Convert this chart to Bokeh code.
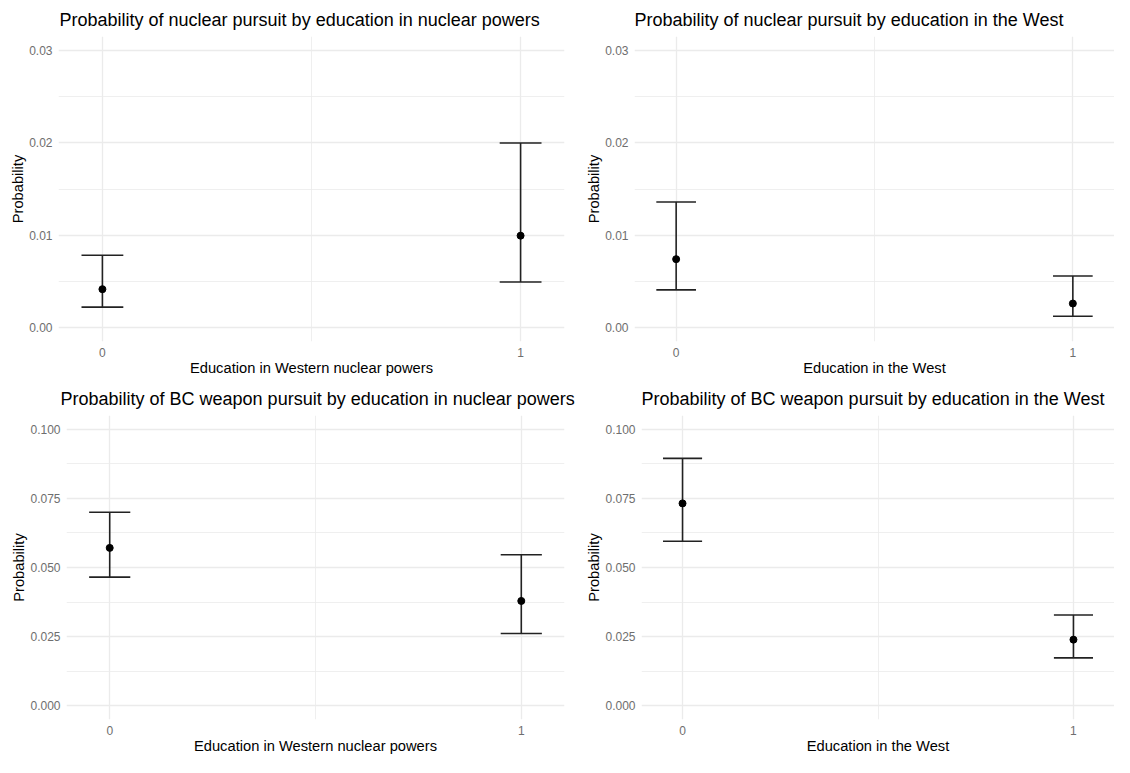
from bokeh.plotting import figure
from bokeh.models import ColumnDataSource, Range1d, FixedTicker, PrintfTickFormatter
from bokeh.layouts import column, row
from bokeh.embed import file_html
from bokeh.resources import INLINE

# ---------------- data ----------------
education = [0, 1]

titles = [
    "Probability of nuclear pursuit by education in nuclear powers",
    "Probability of nuclear pursuit by education in the West",
    "Probability of BC weapon pursuit by education in nuclear powers",
    "Probability of BC weapon pursuit by education in the West",
]
x_titles = [
    "Education in Western nuclear powers",
    "Education in the West",
    "Education in Western nuclear powers",
    "Education in the West",
]
y_title = "Probability"

nuc_powers_est = [0.00416, 0.00995]
nuc_powers_lo = [0.00222, 0.00494]
nuc_powers_hi = [0.00784, 0.01998]

nuc_west_est = [0.00741, 0.00261]
nuc_west_lo = [0.00409, 0.00124]
nuc_west_hi = [0.01359, 0.00558]

bc_powers_est = [0.0571, 0.0379]
bc_powers_lo = [0.0465, 0.0261]
bc_powers_hi = [0.0700, 0.0546]

bc_west_est = [0.0732, 0.0239]
bc_west_lo = [0.0595, 0.0173]
bc_west_hi = [0.0895, 0.0328]

nuc_y_ticks = [0.0, 0.01, 0.02, 0.03]
nuc_y_minor = [0.005, 0.015, 0.025]
bc_y_ticks = [0.0, 0.025, 0.05, 0.075, 0.1]
bc_y_minor = [0.0125, 0.0375, 0.0625, 0.0875]
x_ticks = [0, 1]
x_minor = [0.5]

# ---------------- styling ----------------
FONT = "Liberation Sans"
CAP_HALF = 0.05          # ggplot errorbar width = 0.1
GRID = "#ebebeb"


def make_panel(title, xlabel, est, lo, hi, yticks, yminor, yfmt,
               width, height, ml, mr, mt, mb, title_offset=0):
    ymax = yticks[-1]
    p = figure(width=width, height=height, output_backend="svg",
               toolbar_location=None,
               x_range=Range1d(-0.105, 1.105),
               y_range=Range1d(-0.05 * ymax, 1.05 * ymax),
               min_border_left=ml, min_border_right=mr,
               min_border_top=mt, min_border_bottom=mb)
    p.outline_line_color = None
    p.background_fill_color = "white"
    p.border_fill_color = "white"

    p.title.text = title
    p.title.text_font = FONT
    p.title.text_font_size = "18px"
    p.title.text_font_style = "normal"
    p.title.text_color = "black"
    p.title.align = "left"
    p.title.offset = title_offset
    p.title.standoff = 13

    p.xaxis.ticker = FixedTicker(ticks=x_ticks, minor_ticks=x_minor)
    p.yaxis.ticker = FixedTicker(ticks=yticks, minor_ticks=yminor)
    p.xaxis.formatter = PrintfTickFormatter(format="%d")
    p.yaxis.formatter = PrintfTickFormatter(format=yfmt)

    for ax in (p.xaxis, p.yaxis):
        ax.axis_line_color = None
        ax.major_tick_line_color = None
        ax.minor_tick_line_color = None
        ax.major_tick_out = 0
        ax.major_tick_in = 0
        ax.minor_tick_out = 0
        ax.minor_tick_in = 0
        ax.major_label_text_font = FONT
        ax.major_label_text_font_size = "12px"
        ax.major_label_text_color = "#6e6e6e"
        ax.axis_label_text_font = FONT
        ax.axis_label_text_font_size = "14.7px"
        ax.axis_label_text_font_style = "normal"
        ax.axis_label_text_color = "black"

    p.xaxis.axis_label = xlabel
    p.yaxis.axis_label = y_title
    p.xaxis.major_label_standoff = 6
    p.xaxis.axis_label_standoff = 0
    p.yaxis.major_label_standoff = 6
    p.yaxis.axis_label_standoff = 0

    for g in (p.xgrid, p.ygrid):
        g.grid_line_color = GRID
        g.grid_line_width = 1.3
        g.minor_grid_line_color = GRID
        g.minor_grid_line_width = 0.8

    src = ColumnDataSource(dict(
        x=education, est=est, lo=lo, hi=hi,
        x0=[v - CAP_HALF for v in education],
        x1=[v + CAP_HALF for v in education],
    ))
    p.segment(x0="x", y0="lo", x1="x", y1="hi", source=src,
              line_color="#222222", line_width=1.6)
    p.segment(x0="x0", y0="hi", x1="x1", y1="hi", source=src,
              line_color="#222222", line_width=1.6)
    p.segment(x0="x0", y0="lo", x1="x1", y1="lo", source=src,
              line_color="#222222", line_width=1.6)
    p.scatter(x="x", y="est", source=src, size=7, fill_color="black",
              line_color="black")
    return p


LW, RW = 578, 536
H1, H2 = 379, 378

p1 = make_panel(titles[0], x_titles[0], nuc_powers_est, nuc_powers_lo, nuc_powers_hi,
                nuc_y_ticks, nuc_y_minor, "%.2f", LW, H1, 58, 14, 36, 38, 1)
p2 = make_panel(titles[1], x_titles[1], nuc_west_est, nuc_west_lo, nuc_west_hi,
                nuc_y_ticks, nuc_y_minor, "%.2f", RW, H1, 56, 0, 36, 38, 0)
p3 = make_panel(titles[2], x_titles[2], bc_powers_est, bc_powers_lo, bc_powers_hi,
                bc_y_ticks, bc_y_minor, "%.3f", LW, H2, 66, 14, 36, 38, -6)
p4 = make_panel(titles[3], x_titles[3], bc_west_est, bc_west_lo, bc_west_hi,
                bc_y_ticks, bc_y_minor, "%.3f", RW, H2, 63, 0, 36, 38, 0)

layout = column(row(p1, p2), row(p3, p4))

open("out.html", "w").write(file_html(layout, INLINE))
